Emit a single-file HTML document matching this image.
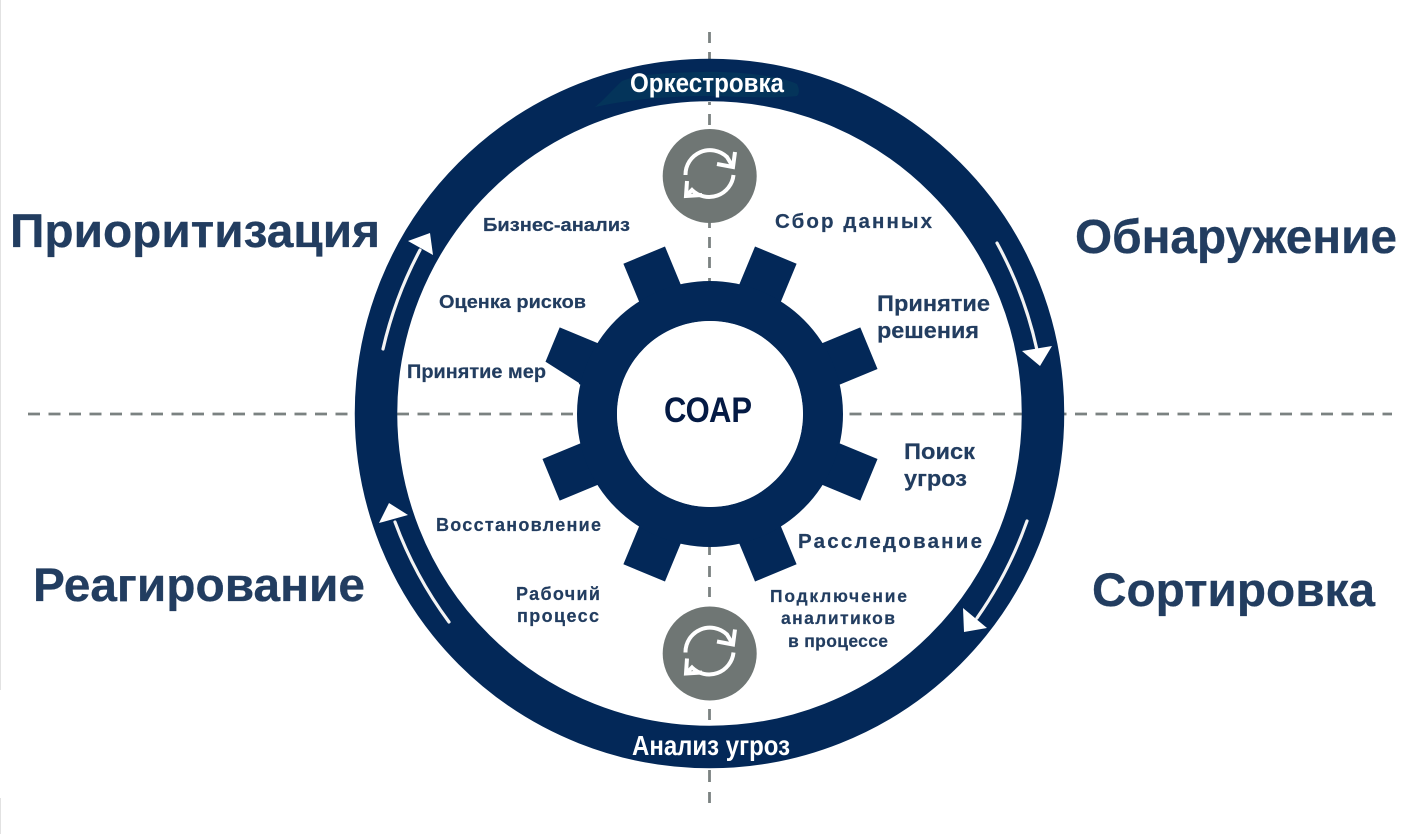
<!DOCTYPE html>
<html lang="ru">
<head>
<meta charset="utf-8">
<title>SOAR</title>
<style>
html,body{margin:0;padding:0;background:#fff;width:1424px;height:834px;overflow:hidden}
svg{display:block}
text{font-family:"Liberation Sans","DejaVu Sans",sans-serif;font-weight:700;fill:#223d60}
.big{stroke:#223d60;stroke-width:.3}
.sm{stroke:#223d60;stroke-width:.2}
</style>
</head>
<body>
<svg width="1424" height="834" viewBox="0 0 1424 834" xmlns="http://www.w3.org/2000/svg">
<rect width="1424" height="834" fill="#fff"/>
<line x1="0.5" y1="0" x2="0.5" y2="690" stroke="#e2e2e2" stroke-width="1"/>
<line x1="0.5" y1="798" x2="0.5" y2="834" stroke="#e2e2e2" stroke-width="1"/>

<!-- dashed axes -->
<g stroke="#7b8281" stroke-width="2.8" fill="none">
  <path d="M28 414H574" stroke-dasharray="12 8.5"/>
  <path d="M849.5 414H1392" stroke-dasharray="12 8.5"/>
  <path d="M709.5 32V43M709.5 52V60M709.5 102V105M709.5 114V125M709.5 222V228M709.5 237V248M709.5 257V268M709.5 278V281M709.5 547V555M709.5 566V577M709.5 587V597M709.5 709V720M709.5 770V782M709.5 792V803"/>
</g>

<!-- outer ring -->
<circle cx="709.5" cy="413.5" r="333.5" fill="none" stroke="#032858" stroke-width="42.5"/>
<path d="M595 107C604 100 612 90 622 81C640 74 665 73 700 72C740 71 780 76 797 84C800 90 799 94 797 96C770 99 730 96 700 96C665 97 630 99 595 107Z" fill="#04345a"/>

<!-- gear -->
<g fill="#032858">
  <rect x="-22.5" y="-172" width="45" height="60" transform="translate(710 414) rotate(22.5)"/>
  <rect x="-22.5" y="-172" width="45" height="60" transform="translate(710 414) rotate(67.5)"/>
  <rect x="-22.5" y="-172" width="45" height="60" transform="translate(710 414) rotate(112.5)"/>
  <rect x="-22.5" y="-172" width="45" height="60" transform="translate(710 414) rotate(157.5)"/>
  <rect x="-22.5" y="-172" width="45" height="60" transform="translate(710 414) rotate(202.5)"/>
  <rect x="-22.5" y="-172" width="45" height="60" transform="translate(710 414) rotate(247.5)"/>
  <rect x="-22.5" y="-172" width="45" height="60" transform="translate(710 414) rotate(292.5)"/>
  <rect x="-22.5" y="-172" width="45" height="60" transform="translate(710 414) rotate(337.5)"/>
</g>
<path d="M538 358L546 362L579 383L577 400L538 400Z" fill="#fff"/>
<circle cx="710" cy="414" r="113" fill="none" stroke="#032858" stroke-width="40"/>
<circle cx="710" cy="414" r="93" fill="#fff"/>
<path d="M28 414H574" stroke="#7b8281" stroke-width="2.8" fill="none" stroke-dasharray="12 8.5" stroke-dashoffset="0" opacity="0"/>

<!-- grey sync circles -->
<g>
  <circle cx="709.7" cy="176" r="47" fill="#6f7674"/>
  <g fill="none" stroke="#fff" stroke-width="4">
    <path d="M685.5 175A24.5 24.5 0 0 1 727 157L733 167"/>
    <path d="M733.5 175A24.5 24.5 0 0 1 692 190L686 196"/>
    <path d="M735 152L733 167L717 164"/>
    <path d="M687 181L686 196L702 195"/>
  </g>
</g>
<g transform="translate(0 477.5)">
  <circle cx="709.7" cy="176" r="47" fill="#6f7674"/>
  <g fill="none" stroke="#fff" stroke-width="4">
    <path d="M685.5 175A24.5 24.5 0 0 1 727 157L733 167"/>
    <path d="M733.5 175A24.5 24.5 0 0 1 692 190L686 196"/>
    <path d="M735 152L733 167L717 164"/>
    <path d="M687 181L686 196L702 195"/>
  </g>
</g>

<!-- ring arrows -->
<g fill="none" stroke="#f4f4f4" stroke-width="3.2" stroke-linecap="round">
  <path d="M997 243A400 400 0 0 1 1037 350"/>
  <path d="M1027 521A400 400 0 0 1 977 618"/>
  <path d="M449 622A400 400 0 0 1 395 522"/>
  <path d="M383 349A400 400 0 0 1 420 250"/>
</g>
<g fill="#fff">
  <path d="M1022 351L1052 346L1040 366Z"/>
  <path d="M963 608L987 628L964 632Z"/>
  <path d="M389 503L379 523L408 515Z"/>
  <path d="M430 233L408 241L433 255Z"/>
</g>

<!-- ring labels -->
<text x="630" y="92" font-size="27" textLength="154" lengthAdjust="spacingAndGlyphs" style="fill:#fff">Оркестровка</text>
<text x="632" y="755" font-size="28" textLength="158" lengthAdjust="spacingAndGlyphs" style="fill:#fff">Анализ угроз</text>

<!-- big labels -->
<text class="big" x="10" y="247" font-size="47" textLength="370" lengthAdjust="spacingAndGlyphs">Приоритизация</text>
<text class="big" x="1075" y="253" font-size="48" textLength="322" lengthAdjust="spacingAndGlyphs">Обнаружение</text>
<text class="big" x="33" y="601" font-size="47" textLength="332" lengthAdjust="spacingAndGlyphs">Реагирование</text>
<text class="big" x="1092" y="606" font-size="47" textLength="283" lengthAdjust="spacingAndGlyphs">Сортировка</text>

<!-- small labels -->
<text class="sm" x="483" y="231" font-size="18" textLength="147" lengthAdjust="spacingAndGlyphs">Бизнес-анализ</text>
<text class="sm" x="775" y="228" font-size="20.5" textLength="157" lengthAdjust="spacing">Сбор данных</text>
<text class="sm" x="439" y="308" font-size="18.5" textLength="147" lengthAdjust="spacingAndGlyphs">Оценка рисков</text>
<text class="sm" x="407" y="378" font-size="19" textLength="139" lengthAdjust="spacingAndGlyphs">Принятие мер</text>
<text class="sm" x="877" y="311" font-size="22" textLength="113" lengthAdjust="spacingAndGlyphs">Принятие</text>
<text class="sm" x="877" y="338" font-size="22" textLength="102" lengthAdjust="spacingAndGlyphs">решения</text>
<text class="sm" x="904" y="459" font-size="22" textLength="71" lengthAdjust="spacingAndGlyphs">Поиск</text>
<text class="sm" x="904" y="486" font-size="22" textLength="63" lengthAdjust="spacingAndGlyphs">угроз</text>
<text class="sm" x="798" y="548" font-size="20.5" textLength="184" lengthAdjust="spacing">Расследование</text>
<text class="sm" x="436" y="531" font-size="18" textLength="165" lengthAdjust="spacing">Восстановление</text>
<text class="sm" x="516" y="600" font-size="18" textLength="84" lengthAdjust="spacing">Рабочий</text>
<text class="sm" x="517" y="622" font-size="18" textLength="82" lengthAdjust="spacing">процесс</text>
<text class="sm" x="770" y="602" font-size="17.5" textLength="137" lengthAdjust="spacing">Подключение</text>
<text class="sm" x="781" y="624" font-size="17.5" textLength="114" lengthAdjust="spacing">аналитиков</text>
<text class="sm" x="788" y="647" font-size="17.5" textLength="100" lengthAdjust="spacing">в процессе</text>

<!-- centre -->
<text x="664" y="422" font-size="35" textLength="88" lengthAdjust="spacingAndGlyphs" style="fill:#041a44">СОАР</text>
</svg>
</body>
</html>
